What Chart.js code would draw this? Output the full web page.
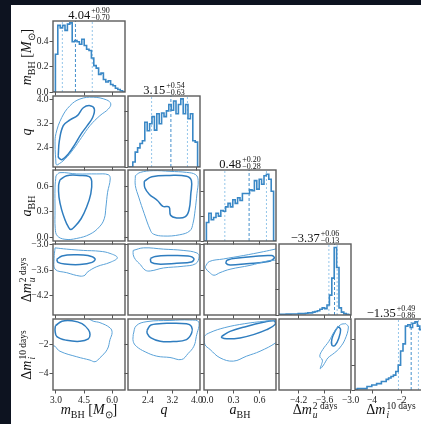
<!DOCTYPE html>
<html>
<head>
<meta charset="utf-8">
<script src="https://cdn.jsdelivr.net/npm/chart.js@4.4.1/dist/chart.umd.min.js"></script>
<style>
  html, body { margin: 0; padding: 0; }
  body { width: 421px; height: 424px; overflow: hidden; background: #0d1320; position: relative; font-family: 'Liberation Serif', serif; }
  #fig { position: absolute; left: 11px; top: 5px; right: 0; bottom: 0; background: #fff; }
  canvas { position: absolute; }
  .lab { position: absolute; color: #111; font-size: 14px; white-space: nowrap; text-align: center; width: 120px; height: 20px; line-height: 20px; }
  .rot { transform: rotate(-90deg); }
  .lab sub { font-size: 10px; line-height: 0; }
  .ss { display: inline-flex; flex-direction: column; text-align: left; }
  .lab .ss { font-size: 9.5px; line-height: 9px; vertical-align: 5px; margin-left: 1px; }
  .ttl { position: absolute; width: 120px; height: 16px; display: flex; align-items: center; justify-content: center; color: #111; white-space: nowrap; }
  .ttl .num { font-size: 12.5px; line-height: 12px; }
  .ttl .ss { font-size: 8px; line-height: 6.5px; margin-left: 1px; }
</style>
</head>
<body>
<div id="fig"></div>
<script>
// axis ranges of the five parameters
const mRange = [2.84, 6.69];
const qRange = [1.75, 4.1];
const aRange = [-0.04, 0.79];
const uRange = [-4.65, -2.99];
const iRange = [-5.15, -0.28];

// tick values / labels
const mTicks = [3.0, 4.5, 6.0], mTickLabels = ['3.0', '4.5', '6.0'];
const qTicks = [2.4, 3.2, 4.0], qTickLabels = ['2.4', '3.2', '4.0'];
const aTicks = [0.0, 0.3, 0.6], aTickLabels = ['0.0', '0.3', '0.6'];
const uTicks = [-4.2, -3.6, -3.0], uTickLabels = ['\u22124.2', '\u22123.6', '\u22123.0'];
const iTicks = [-4, -2], iTickLabels = ['\u22124', '\u22122'];

// 1D histograms (30 bins over each axis range)
const mHist = [0, 0.30, 0.53, 0.51, 0.53, 0.49, 0.54, 0.55, 0.40, 0.41, 0.40, 0.38, 0.42, 0.37, 0.34, 0.33, 0.27, 0.21, 0.19, 0.14, 0.15, 0.10, 0.08, 0.09, 0.06, 0.05, 0.03, 0.02, 0.01, 0];
const qHist = [0, 0, 0.07, 0.21, 0.27, 0.33, 0.37, 0.63, 0.51, 0.61, 0.71, 0.52, 0.75, 0.61, 0.76, 0.71, 0.79, 0.88, 0.80, 0.93, 0.75, 0.88, 0.96, 0.75, 0.88, 0.68, 0.75, 0.37, 0.35, 0];
const aHist = [0, 0.26, 0.39, 0.30, 0.33, 0.39, 0.35, 0.43, 0.42, 0.48, 0.53, 0.48, 0.58, 0.53, 0.61, 0.57, 0.67, 0.67, 0.67, 0.72, 0.71, 0.85, 0.73, 0.87, 0.80, 0.92, 0.94, 0.87, 0.70, 0];
const uHist = [0.01, 0.01, 0.01, 0.012, 0.012, 0.015, 0.015, 0.015, 0.02, 0.02, 0.02, 0.025, 0.03, 0.03, 0.04, 0.05, 0.06, 0.08, 0.10, 0.09, 0.14, 0.28, 0.52, 0.95, 0.67, 0.10, 0.04, 0.02, 0.01, 0];
const iHist = [0.01, 0.02, 0.02, 0.02, 0.02, 0.05, 0.05, 0.07, 0.07, 0.09, 0.09, 0.12, 0.12, 0.15, 0.17, 0.19, 0.21, 0.26, 0.35, 0.55, 0.65, 0.90, 0.92, 0.88, 0.94, 0.96, 0.90, 0.85, 0.70, 0.50];
const histTop = [0.565, 1, 1, 1, 1];
const histTicks = [[0, 0.2, 0.4], [0, 0.38, 0.78], [0, 0.35, 0.70], [0, 0.36, 0.725], [0, 0.34, 0.71]];
const histTickLabels = ['0.0', '0.2', '0.4'];

// 16 / 50 / 84 percent quantiles
const mQuant = [3.34, 4.04, 4.94];
const qQuant = [2.52, 3.15, 3.69];
const aQuant = [0.20, 0.48, 0.68];
const uQuant = [-3.50, -3.37, -3.31];
const iQuant = [-2.21, -1.35, -0.86];

// titles above the diagonal
const titleMid = ['4.04', '3.15', '0.48', '\u22123.37', '\u22121.35'];
const titleUp = ['+0.90', '+0.54', '+0.20', '+0.06', '+0.49'];
const titleDown = ['\u22120.70', '\u22120.63', '\u22120.28', '\u22120.13', '\u22120.86'];

// 2D contours [x, y] (outer = lighter, inner = darker)
const qm_outer = [[3.0,1.84],[2.95,2.51],[3.0,2.86],[3.31,3.39],[3.75,3.78],[4.28,4.0],[4.99,4.06],[5.71,3.97],[5.93,3.84],[5.80,3.67],[5.35,3.45],[4.82,3.12],[4.37,2.73],[3.93,2.34],[3.48,2.01],[3.07,1.82]];
const qm_inner = [[3.12,2.12],[3.18,2.62],[3.39,3.12],[3.75,3.31],[4.14,3.45],[4.46,3.71],[4.82,3.78],[5.05,3.67],[4.96,3.39],[4.67,3.12],[4.34,2.84],[4.02,2.51],[3.66,2.18],[3.31,1.99],[3.14,2.06]];
const am_outer = [[3.0,0.724],[3.21,0.759],[4.11,0.744],[5.18,0.744],[5.80,0.735],[5.90,0.686],[5.76,0.53],[5.67,0.357],[5.58,0.22],[5.32,0.125],[4.82,0.04],[4.11,-0.01],[3.48,-0.02],[3.07,0.02],[2.96,0.107],[2.95,0.32],[2.95,0.59]];
const am_inner = [[3.21,0.674],[3.57,0.724],[4.28,0.727],[4.78,0.712],[4.91,0.658],[4.86,0.512],[4.64,0.357],[4.34,0.22],[4.02,0.133],[3.79,0.095],[3.64,0.133],[3.48,0.21],[3.30,0.327],[3.16,0.473],[3.14,0.608]];
const um_outer = [[2.95,-3.08],[3.57,-3.11],[4.46,-3.14],[5.35,-3.16],[5.89,-3.21],[6.28,-3.31],[5.89,-3.42],[5.18,-3.52],[4.67,-3.65],[4.55,-3.72],[4.28,-3.74],[3.57,-3.66],[2.95,-3.58],[2.90,-3.33]];
const um_inner = [[3.04,-3.35],[3.32,-3.27],[4.02,-3.24],[4.71,-3.26],[5.09,-3.34],[4.93,-3.42],[4.28,-3.47],[3.48,-3.46],[3.11,-3.42]];
const im_outer = [[2.95,-2.15],[3.21,-2.49],[4.11,-2.87],[4.82,-3.10],[5.09,-3.21],[5.35,-2.94],[5.74,-2.37],[5.89,-1.69],[6.0,-1.21],[5.89,-0.89],[5.35,-0.53],[4.99,-0.43],[4.6,-0.2],[2.7,-0.2],[2.7,-2.0]];
const im_inner = [[2.97,-0.74],[3.32,-0.43],[3.86,-0.40],[4.39,-0.60],[4.73,-1.01],[4.82,-1.35],[4.73,-1.64],[4.28,-1.81],[3.57,-1.74],[3.05,-1.49],[2.95,-1.08]];
const aq_outer = [[1.99,0.724],[2.15,0.762],[2.58,0.782],[3.12,0.774],[3.66,0.762],[3.96,0.735],[4.04,0.666],[4.0,0.512],[3.94,0.319],[3.87,0.165],[3.77,0.079],[3.44,0.033],[2.91,0.018],[2.58,0.041],[2.48,0.087],[2.28,0.28],[2.10,0.473],[1.99,0.608]];
const aq_inner = [[2.28,0.658],[2.53,0.712],[3.12,0.727],[3.66,0.716],[3.82,0.666],[3.80,0.512],[3.74,0.319],[3.61,0.241],[3.34,0.23],[3.14,0.261],[3.09,0.357],[2.89,0.365],[2.71,0.434],[2.45,0.504],[2.30,0.582]];
const uq_outer = [[1.92,-3.14],[2.26,-3.08],[2.91,-3.11],[3.55,-3.14],[4.0,-3.20],[4.07,-3.29],[3.96,-3.45],[3.55,-3.51],[2.91,-3.55],[2.48,-3.62],[2.31,-3.60],[2.15,-3.47],[1.99,-3.35],[1.92,-3.24]];
const uq_inner = [[2.48,-3.33],[2.64,-3.28],[3.12,-3.26],[3.71,-3.27],[3.90,-3.33],[3.82,-3.41],[3.34,-3.44],[2.74,-3.46],[2.51,-3.42]];
const iq_outer = [[1.92,-1.35],[2.02,-0.74],[2.37,-0.46],[3.12,-0.38],[3.77,-0.35],[4.06,-0.49],[3.98,-1.47],[3.90,-2.15],[3.71,-2.65],[3.50,-3.06],[3.12,-2.92],[2.69,-2.83],[2.31,-2.53],[2.02,-2.15],[1.92,-1.81]];
const iq_inner = [[2.37,-1.06],[2.50,-0.69],[3.02,-0.58],[3.66,-0.60],[3.82,-0.78],[3.83,-1.23],[3.66,-1.69],[3.23,-1.83],[2.80,-1.81],[2.50,-1.58],[2.38,-1.28]];
const ua_outer = [[-0.025,-3.52],[0.021,-3.40],[0.183,-3.34],[0.413,-3.26],[0.644,-3.17],[0.78,-3.11],[0.84,-3.08],[0.84,-3.32],[0.683,-3.39],[0.49,-3.49],[0.26,-3.58],[0.144,-3.66],[0.075,-3.72],[0.021,-3.65],[-0.017,-3.57]];
const ua_inner = [[0.222,-3.37],[0.298,-3.33],[0.53,-3.28],[0.74,-3.26],[0.77,-3.32],[0.70,-3.40],[0.45,-3.45],[0.26,-3.48],[0.214,-3.44]];
const ia_outer = [[0.79,-0.36],[0.66,-0.43],[0.43,-0.60],[0.20,-0.87],[0.03,-1.21],[-0.035,-1.49],[-0.03,-2.03],[0.03,-2.37],[0.144,-2.94],[0.298,-3.17],[0.45,-2.83],[0.606,-2.49],[0.79,-1.90],[0.85,-1.5],[0.85,-0.4]];
const ia_inner = [[0.164,-1.47],[0.26,-1.13],[0.45,-0.79],[0.644,-0.51],[0.767,-0.40],[0.78,-0.65],[0.683,-1.01],[0.53,-1.35],[0.375,-1.58],[0.222,-1.64],[0.164,-1.56]];
const iu_outer = [[-3.11,-0.60],[-3.05,-0.83],[-3.13,-1.69],[-3.25,-2.26],[-3.37,-2.60],[-3.52,-2.94],[-3.57,-3.17],[-3.64,-3.51],[-3.70,-3.69],[-3.67,-3.40],[-3.65,-3.10],[-3.71,-2.83],[-3.64,-2.37],[-3.50,-1.81],[-3.37,-1.13],[-3.23,-0.67]];
const iu_inner = [[-3.28,-0.78],[-3.23,-1.01],[-3.27,-1.58],[-3.36,-2.10],[-3.43,-2.08],[-3.43,-1.64],[-3.35,-1.08]];

const labelsHtml = [
  '<i>m</i><sub>BH</sub> [<i>M</i><sub>\u2299</sub>]',
  '<i>q</i>',
  '<i>a</i><sub>BH</sub>',
  '\u0394<i>m</i><span class="ss"><span>2 days</span><span><i>u</i></span></span>',
  '\u0394<i>m</i><span class="ss"><span>10 days</span><span><i>i</i></span></span>'
];

const vars = [
  { range: mRange, ticks: mTicks, labels: mTickLabels, hist: mHist, quant: mQuant },
  { range: qRange, ticks: qTicks, labels: qTickLabels, hist: qHist, quant: qQuant },
  { range: aRange, ticks: aTicks, labels: aTickLabels, hist: aHist, quant: aQuant },
  { range: uRange, ticks: uTicks, labels: uTickLabels, hist: uHist, quant: uQuant },
  { range: iRange, ticks: iTicks, labels: iTickLabels, hist: iHist, quant: iQuant }
];
const contours = {
  '10': [qm_outer, qm_inner], '20': [am_outer, am_inner], '30': [um_outer, um_inner], '40': [im_outer, im_inner],
  '21': [aq_outer, aq_inner], '31': [uq_outer, uq_inner], '41': [iq_outer, iq_inner],
  '32': [ua_outer, ua_inner], '42': [ia_outer, ia_inner], '43': [iu_outer, iu_inner]
};

// layout
const panelLeft = [53, 128, 204, 279, 355];
const panelTop = [21, 96, 170, 244, 319];
const PW = 72, PH = 71;
const ML = 44, MR = 14, MT = 8, MB = 28;

const HIST = '#3a88c6', INNER = '#2f7dbf', OUTER = '#5aa2d8', MEDIAN = '#4590cc', QLINE = '#95c6ea';

// box around each panel
const framePlugin = {
  id: 'frame',
  afterDraw(chart) {
    const a = chart.chartArea, ctx = chart.ctx;
    ctx.save();
    ctx.strokeStyle = '#5c5c5c';
    ctx.lineWidth = 1.4;
    ctx.strokeRect(a.left, a.top, a.right - a.left, a.bottom - a.top);
    ctx.restore();
  }
};

function makeAxis(pos, range, ticks, labels, show) {
  return {
    type: 'linear',
    position: pos,
    min: range[0],
    max: range[1],
    afterBuildTicks: s => { s.ticks = ticks.map(v => ({ value: v })); },
    afterFit: s => {
      if (pos === 'left') s.width = ML; else s.height = MB;
      s.paddingLeft = s.paddingRight = s.paddingTop = s.paddingBottom = 0;
    },
    ticks: {
      display: show,
      callback: (v, i) => (labels ? labels[i] : ''),
      font: { family: 'Liberation Serif', size: 9.5 },
      color: '#1a1a1a',
      padding: 1,
      maxRotation: 0,
      autoSkip: false
    },
    grid: { drawOnChartArea: false, drawTicks: true, tickLength: 3.5, color: '#555', lineWidth: 1 },
    border: { display: false }
  };
}

const toPts = arr => { const p = arr.map(([x, y]) => ({ x, y })); p.push(p[0]); return p; };

function stepPoints(range, vals) {
  const w = (range[1] - range[0]) / vals.length;
  const pts = vals.map((v, i) => ({ x: range[0] + i * w, y: v }));
  pts.unshift({ x: range[0], y: 0 });
  pts.push({ x: range[1], y: 0 });
  return pts;
}

for (let r = 0; r < 5; r++) {
  for (let c = 0; c <= r; c++) {
    const cv = document.createElement('canvas');
    const W = PW + ML + MR, H = PH + MT + MB;
    cv.width = W; cv.height = H;
    cv.style.width = W + 'px'; cv.style.height = H + 'px';
    cv.style.left = (panelLeft[c] - ML) + 'px';
    cv.style.top = (panelTop[r] - MT) + 'px';
    document.body.appendChild(cv);

    const xv = vars[c];
    let datasets, yAxis;
    if (r === c) {
      const top = histTop[r];
      datasets = [{
        data: stepPoints(xv.range, xv.hist), showLine: true, stepped: true,
        borderColor: HIST, borderWidth: 1.6, pointRadius: 0, fill: false
      }];
      xv.quant.forEach((q, k) => {
        datasets.push({
          data: [{ x: q, y: 0 }, { x: q, y: top }], showLine: true, pointRadius: 0,
          borderColor: k === 1 ? MEDIAN : QLINE, borderWidth: 1,
          borderDash: k === 1 ? [3, 2] : [2, 2]
        });
      });
      yAxis = makeAxis('left', [0, top], histTicks[r], r === 0 ? histTickLabels : null, c === 0);
    } else {
      const [outer, inner] = contours['' + r + c];
      datasets = [
        { data: toPts(outer), showLine: true, tension: 0.4, borderColor: OUTER, borderWidth: 1, pointRadius: 0 },
        { data: toPts(inner), showLine: true, tension: 0.4, borderColor: INNER, borderWidth: 1.5, pointRadius: 0 }
      ];
      const yv = vars[r];
      yAxis = makeAxis('left', yv.range, yv.ticks, yv.labels, c === 0);
    }

    new Chart(cv.getContext('2d'), {
      type: 'scatter',
      data: { datasets },
      options: {
        responsive: false,
        animation: false,
        events: [],
        layout: { padding: { left: 0, right: MR, top: MT, bottom: 0 } },
        plugins: { legend: { display: false }, tooltip: { enabled: false } },
        scales: {
          x: makeAxis('bottom', xv.range, xv.ticks, xv.labels, r === 4),
          y: yAxis
        }
      },
      plugins: [framePlugin]
    });
  }
}

// titles above the diagonal panels
for (let k = 0; k < 5; k++) {
  const d = document.createElement('div');
  d.className = 'ttl';
  d.innerHTML = '<span class="num">' + titleMid[k] + '</span><span class="ss"><span>' + titleUp[k] + '</span><span>' + titleDown[k] + '</span></span>';
  d.style.left = (panelLeft[k] + PW / 2 - 60) + 'px';
  d.style.top = (panelTop[k] - 6.5 - 8) + 'px';
  document.body.appendChild(d);
}

// axis labels (bottom row and left column)
for (let k = 0; k < 5; k++) {
  const b = document.createElement('div');
  b.className = 'lab';
  b.innerHTML = labelsHtml[k];
  b.style.left = (panelLeft[k] + PW / 2 - 60) + 'px';
  b.style.top = '400px';
  document.body.appendChild(b);

  const l = document.createElement('div');
  l.className = 'lab rot';
  l.innerHTML = labelsHtml[k];
  l.style.left = (27 - 60) + 'px';
  l.style.top = (panelTop[k] + PH / 2 - 10) + 'px';
  document.body.appendChild(l);
}
</script>
</body>
</html>
